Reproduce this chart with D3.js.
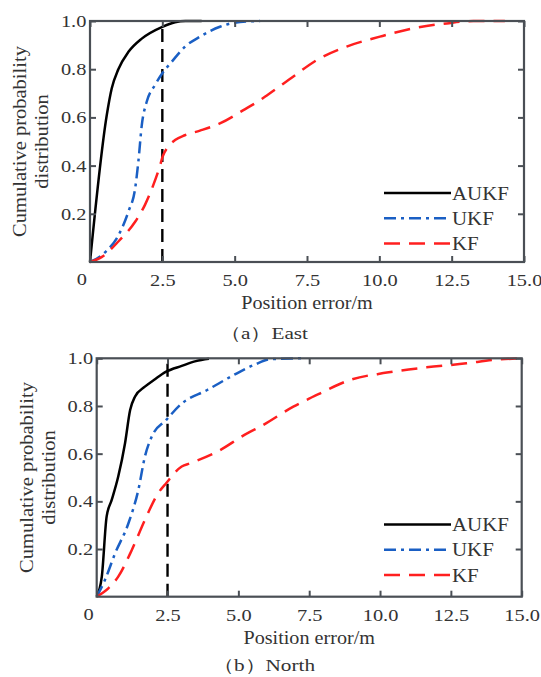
<!DOCTYPE html>
<html>
<head>
<meta charset="utf-8">
<script src="https://cdn.jsdelivr.net/npm/d3@7"></script>
<style>
  html, body { margin: 0; padding: 0; background: #fff; }
  svg { display: block; }
  text { font-family: "Liberation Serif", "Times New Roman", serif; fill: #333; }
</style>
</head>
<body>
<svg id="chart" width="541" height="677"></svg>
<script>
// ---------------- data ----------------
const seriesNames = ["AUKF", "UKF", "KF"];
const xTickValues = [0, 2.5, 5, 7.5, 10, 12.5, 15];
const yTickValues = [0.2, 0.4, 0.6, 0.8, 1.0];
const thresholdX = 2.5;

// East: [position error (m), cumulative probability]
const eastAUKF = [[0,0],[0.58,0.61],[0.75,0.72],[0.98,0.80],[1.33,0.872],[1.79,0.927],[2.5,0.976],[2.94,0.995],[3.3,1.0],[3.86,1.0]];
const eastUKF = [[0,0],[0.52,0.04],[0.98,0.11],[1.33,0.21],[1.56,0.305],[1.67,0.415],[1.79,0.568],[1.96,0.665],[2.25,0.735],[2.5,0.783],[2.82,0.83],[3.28,0.893],[3.8,0.935],[4.49,0.976],[5.0,0.993],[5.88,1.0]];
const eastKF = [[0,0],[0.4,0.02],[0.98,0.085],[1.56,0.167],[1.9,0.237],[2.19,0.32],[2.42,0.40],[2.51,0.437],[2.7,0.478],[2.94,0.506],[3.28,0.526],[3.8,0.545],[4.49,0.575],[5.3,0.63],[5.88,0.672],[6.1,0.69],[7.03,0.77],[7.84,0.838],[8.87,0.894],[10.02,0.935],[11.18,0.97],[12.33,0.99],[13.25,1.0],[14.34,1.0]];

// North
const northAUKF = [[0,0],[0.18,0.084],[0.35,0.336],[0.53,0.406],[0.76,0.504],[1.0,0.644],[1.18,0.783],[1.35,0.839],[1.7,0.881],[2.03,0.91],[2.45,0.944],[3.0,0.968],[3.5,0.988],[3.96,0.998]];
const northUKF = [[0,0],[0.29,0.07],[0.65,0.182],[1.12,0.308],[1.47,0.448],[1.7,0.587],[1.94,0.671],[2.45,0.741],[3.0,0.81],[3.9,0.867],[4.84,0.93],[5.55,0.972],[6.13,0.996],[7.24,1.0]];
const northKF = [[0,0],[0.41,0.035],[0.76,0.084],[1.24,0.196],[1.7,0.322],[2.17,0.434],[2.45,0.476],[3.0,0.546],[3.31,0.56],[4.25,0.608],[5.31,0.685],[5.77,0.713],[6.94,0.797],[7.89,0.853],[8.94,0.909],[10.24,0.94],[11.64,0.962],[13.05,0.979],[13.99,0.993],[15,1.0]];

const captions = ["（a）East", "（b）North"];
const xLabel = "Position error/m";
const yLabelLines = ["Cumulative probability", "distribution"];

// ---------------- styles / layout ----------------
const styles = {
  AUKF: { color: "#000000", dash: null },
  UKF:  { color: "#1a5fc4", dash: "12,5,3,5" },
  KF:   { color: "#ff1f1f", dash: "16,9" }
};
const axisColor = "#4a4f55";

const panels = [
  { left: 90, right: 524, top: 21, bottom: 262, series: [eastAUKF, eastUKF, eastKF], caption: captions[0], capY: 339, legendY: 193 },
  { left: 96.7, right: 521.7, top: 358.3, bottom: 596.7, series: [northAUKF, northUKF, northKF], caption: captions[1], capY: 671, legendY: 524.5 }
];

const svg = d3.select("#chart");

function stretchText(sel, sx) {
  sel.each(function() {
    const t = d3.select(this);
    const x = +t.attr("x") || 0;
    const y = +t.attr("y") || 0;
    t.attr("x", null).attr("y", null)
     .attr("transform", `translate(${x},${y}) scale(${sx},1)`);
  });
}

panels.forEach(p => {
  const g = svg.append("g");
  const x = d3.scaleLinear().domain([0, 15]).range([p.left, p.right]);
  const y = d3.scaleLinear().domain([0, 1]).range([p.bottom, p.top]);

  // threshold line
  g.append("line")
    .attr("x1", x(thresholdX)).attr("x2", x(thresholdX))
    .attr("y1", y(0)).attr("y2", y(1))
    .attr("stroke", "#000").attr("stroke-width", 2.4)
    .attr("stroke-dasharray", "13,7");

  // curves
  const line = d3.line().x(d => x(d[0])).y(d => y(d[1])).curve(d3.curveMonotoneX);
  p.series.forEach((data, i) => {
    const st = styles[seriesNames[i]];
    g.append("path")
      .attr("d", line(data))
      .attr("fill", "none")
      .attr("stroke", st.color)
      .attr("stroke-width", 2.5)
      .attr("stroke-dasharray", st.dash);
  });

  // axes
  const fmt = d3.format(".1f");
  const bx = g.append("g").attr("transform", `translate(0,${p.bottom})`)
    .call(d3.axisBottom(x).tickValues(xTickValues).tickSize(-6).tickPadding(12)
      .tickFormat(d => d === 0 ? "" : fmt(d)));
  const tx = g.append("g").attr("transform", `translate(0,${p.top})`)
    .call(d3.axisTop(x).tickValues(xTickValues).tickSize(-6).tickFormat(""));
  const ly = g.append("g").attr("transform", `translate(${p.left},0)`)
    .call(d3.axisLeft(y).tickValues(yTickValues).tickSize(-6).tickPadding(3).tickFormat(fmt));
  const ry = g.append("g").attr("transform", `translate(${p.right},0)`)
    .call(d3.axisRight(y).tickValues(yTickValues).tickSize(-6).tickFormat(""));

  [bx, tx, ly, ry].forEach(a => {
    a.select(".domain").remove();
    a.selectAll(".tick line").attr("stroke", axisColor).attr("stroke-width", 2);
    a.selectAll("text").attr("font-family", "Liberation Serif").attr("font-size", 17).attr("fill", "#333");
  });
  bx.selectAll(".tick text").attr("transform", "scale(1.2,1)");
  ly.selectAll(".tick text").attr("transform", "scale(1.2,1)");

  // origin "0" label
  const zero = g.append("text")
    .attr("x", x(0) - 3).attr("y", p.bottom + 23)
    .attr("text-anchor", "end").attr("font-size", 17).text("0");
  stretchText(zero, 1.2);

  // frame
  g.append("rect")
    .attr("x", p.left).attr("y", p.top)
    .attr("width", p.right - p.left).attr("height", p.bottom - p.top)
    .attr("fill", "none").attr("stroke", axisColor).attr("stroke-width", 2.2);

  // x label
  const xl = g.append("text")
    .attr("x", (p.left + p.right) / 2).attr("y", p.bottom + 47)
    .attr("text-anchor", "middle").attr("font-size", 18).text(xLabel);
  stretchText(xl, 1.12);

  // y label (two lines)
  const cy = (p.top + p.bottom) / 2;
  [[yLabelLines[0], p.left - 64], [yLabelLines[1], p.left - 42]].forEach(([txt, bx0]) => {
    g.append("text")
      .attr("transform", `translate(${bx0},${cy}) rotate(-90) scale(1.08,1)`)
      .attr("text-anchor", "middle").attr("font-size", 19).text(txt);
  });

  // legend
  seriesNames.forEach((name, i) => {
    const st = styles[name];
    const ly0 = p.legendY + i * 25.3;
    g.append("line")
      .attr("x1", 384).attr("x2", 451).attr("y1", ly0).attr("y2", ly0)
      .attr("stroke", st.color).attr("stroke-width", 2.5)
      .attr("stroke-dasharray", st.dash);
    const t = g.append("text")
      .attr("x", 452).attr("y", ly0 + 6.5)
      .attr("font-size", 19).text(name);
    stretchText(t, 1.1);
  });

  // caption
  const cap = svg.append("text")
    .attr("x", 264).attr("y", p.capY)
    .attr("text-anchor", "middle").attr("font-size", 17).text(p.caption);
  stretchText(cap, 1.25);
});
</script>
</body>
</html>
